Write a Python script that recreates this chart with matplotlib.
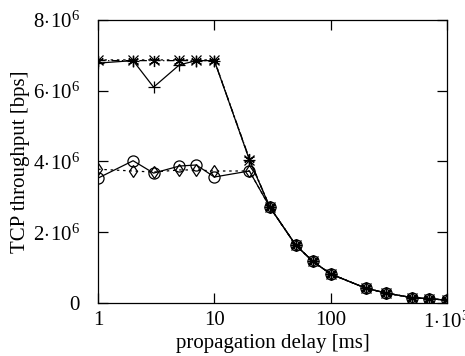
import matplotlib
matplotlib.use("Agg")
import matplotlib.pyplot as plt
from matplotlib.ticker import FixedLocator, FixedFormatter

plt.rcParams['font.family'] = ['Liberation Serif', 'DejaVu Serif']
plt.rcParams['mathtext.fontset'] = 'custom'
plt.rcParams['mathtext.rm'] = 'Liberation Serif'
plt.rcParams['mathtext.it'] = 'Liberation Serif'

# propagation delays [ms]
delay = [1, 2, 3, 5, 7, 10, 20, 30, 50, 70, 100, 200, 300, 500, 700, 1000]

# common tail once the path is delay-limited (30 ms onward)
tail = [2.71e6, 1.64e6, 1.18e6, 0.82e6, 0.42e6, 0.28e6, 0.15e6, 0.12e6, 0.08e6]

plus_tp = [6.78e6, 6.85e6, 6.10e6, 6.73e6, 6.85e6, 6.85e6, 4.05e6] + tail
cross_tp = [6.87e6, 6.87e6, 6.87e6, 6.87e6, 6.87e6, 6.87e6, 4.05e6] + tail
star_tp = [6.85e6, 6.85e6, 6.85e6, 6.85e6, 6.85e6, 6.85e6, 4.08e6] + tail
circle_tp = [3.53e6, 4.02e6, 3.67e6, 3.87e6, 3.90e6, 3.56e6, 3.73e6] + tail
diamond_tp = [3.78e6, 3.73e6, 3.70e6, 3.76e6, 3.76e6, 3.73e6, 3.73e6] + tail

x_ticks = [1, 10, 100, 1000]
x_labels = ['1', '10', '100', r'$1\!\cdot\!10^3$']
y_ticks = [0, 2e6, 4e6, 6e6, 8e6]
y_labels = ['0', r'$2\!\cdot\!10^6$', r'$4\!\cdot\!10^6$', r'$6\!\cdot\!10^6$', r'$8\!\cdot\!10^6$']

fig = plt.figure(figsize=(4.65, 3.56), dpi=100)
ax = fig.add_axes([0.211, 0.149, 0.75, 0.795])

kw = dict(color='black', linewidth=0.9, markersize=8, markeredgewidth=0.9)
ax.plot(delay, plus_tp, linestyle='-', marker='+', **kw)
ax.plot(delay, cross_tp, linestyle=(0, (2, 3)), marker='x', markersize=7, color='black',
        linewidth=0.9, markeredgewidth=0.9)
ax.plot(delay, star_tp, linestyle=(0, (6, 2, 1, 2)), marker=(6, 2, 0), **kw)
ax.plot(delay, circle_tp, linestyle='-', marker='o', markerfacecolor='none', **kw)
ax.plot(delay, diamond_tp, linestyle=(0, (2, 3)), marker='d', markerfacecolor='none',
        markersize=6, color='black', linewidth=0.9, markeredgewidth=0.9)

ax.set_xscale('log')
ax.set_xlim(1, 1000)
ax.set_ylim(0, 8e6)

ax.xaxis.set_major_locator(FixedLocator(x_ticks))
ax.xaxis.set_major_formatter(FixedFormatter(x_labels))
ax.xaxis.set_minor_locator(FixedLocator([]))
ax.yaxis.set_major_locator(FixedLocator(y_ticks))
ax.yaxis.set_major_formatter(FixedFormatter(y_labels))

ax.tick_params(which='major', direction='in', length=7, width=0.9,
               top=True, right=True, labelsize=15, pad=6)
ax.tick_params(axis='y', pad=13)
for s in ax.spines.values():
    s.set_linewidth(0.9)

ax.set_xlabel('propagation delay [ms]', fontsize=15, labelpad=1)
ax.set_ylabel('TCP throughput [bps]', fontsize=15, labelpad=2)

fig.savefig('out.png', dpi=100)
